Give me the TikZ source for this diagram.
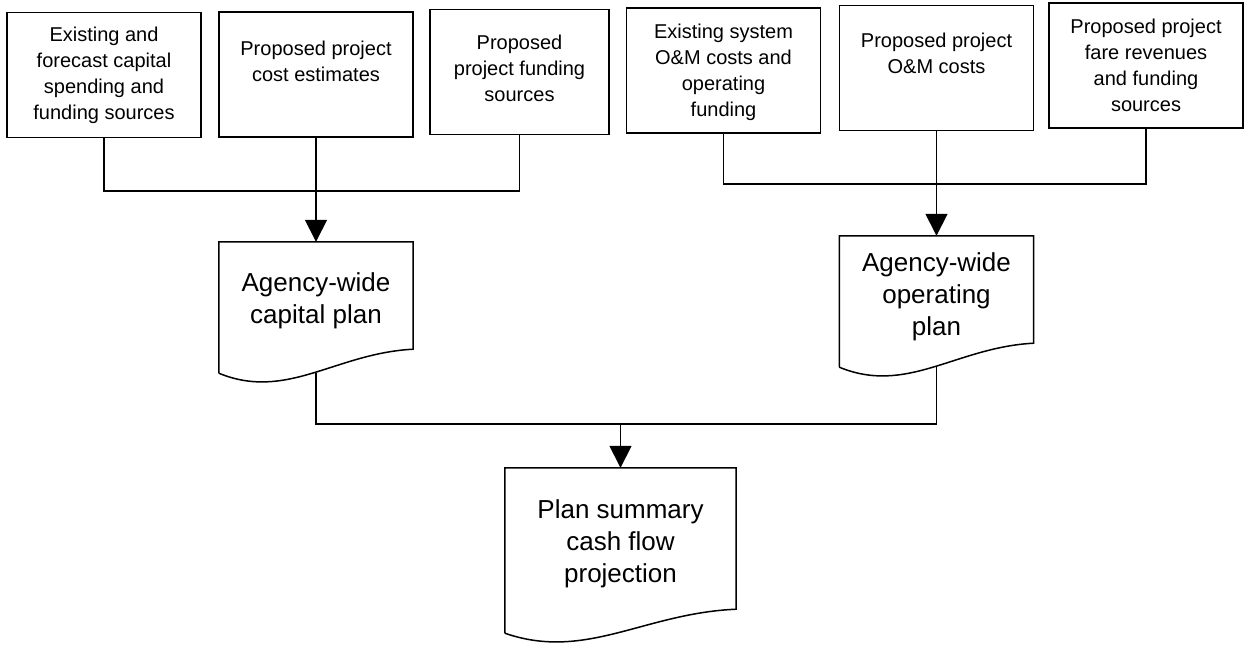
\documentclass[tikz,border=0pt]{standalone}
\usepackage{fontspec}
\setmainfont{Liberation Sans}
\usetikzlibrary{arrows.meta,calc,positioning}

\tikzset{
  wire/.style={draw=black, line width=1.5pt},
  srcbox/.style={wire, rectangle, minimum width=194pt, minimum height=125pt, inner sep=0pt},
  srctext/.style={align=center, inner sep=0pt, font=\fontsize{20}{26}\selectfont},
  docnode/.style={rectangle, inner sep=0pt, minimum width=194pt, minimum height=131pt},
  doctext/.style={align=center, inner sep=0pt, font=\fontsize{26}{32}\selectfont},
  arr/.style={wire, -{Triangle[length=22pt,width=22pt]}}
}

% document symbol: straight top and sides, wavy bottom
\newcommand{\docoutline}[1]{%
  \draw[wire, line join=miter] (#1.south west) -- (#1.north west) -- (#1.north east) -- ($(#1.south east)+(0,-24)$)
    .. controls ($(#1.south west)!0.6!(#1.south east)+(0,-20)$) and ($(#1.south west)!0.35!(#1.south east)+(0,28)$) .. (#1.south west);}

\begin{document}
\begin{tikzpicture}[x=1pt, y=-1pt]
    \useasboundingbox[fill=white] (0,0) rectangle (1244,645);

    \node[srcbox] (b1) at (104,75) {};
    \node[srcbox] (b2) at (316,74.5) {};
    \node[srcbox, minimum width=179pt] (b3) at (519.5,72) {};
    \node[srcbox] (b4) at (723.5,70.5) {};
    \node[srcbox] (b5) at (936.5,68) {};
    \node[srcbox] (b6) at (1146,65.5) {};

    \node[srctext, below=15pt of b1.north] (t1) {Existing and\\forecast capital\\spending and\\funding sources};
    \node[srctext, below=30pt of b2.north] (t2) {Proposed project\\cost estimates};
    \node[srctext, below=26pt of b3.north] (t3) {Proposed\\project funding\\sources};
    \node[srctext, below=17pt of b4.north] (t4) {Existing system\\O\&M costs and\\operating\\funding};
    \node[srctext, below=28pt of b5.north] (t5) {Proposed project\\O\&M costs};
    \node[srctext, below=17pt of b6.north] (t6) {Proposed project\\fare revenues\\and funding\\sources};

    \node[docnode] (d1) at (316,307.5) {};
    \node[docnode] (d2) at (936.5,301.5) {};
    \node[docnode, minimum width=231pt, minimum height=165pt] (d3) at (620.5,550.5) {};
    \docoutline{d1}
    \docoutline{d2}
    \docoutline{d3}

    \node[doctext, below=31pt of d1.north] (p1) {Agency-wide\\capital plan};
    \node[doctext, below=17pt of d2.north] (p2) {Agency-wide\\operating\\plan};
    \node[doctext, below=32pt of d3.north] (p3) {Plan summary\\cash flow\\projection};

    \coordinate (capbus) at (0,191);
    \coordinate (opbus) at (0,184);
    \coordinate (sumbus) at (0,424);

    \draw[wire] (b1.south) |- (b3.south |- capbus) -- (b3.south);
    \draw[arr] (b2.south) -- (d1.north);
    \draw[wire] (b4.south) |- (b6.south |- opbus) -- (b6.south);
    \draw[arr] (b5.south) -- (d2.north);

    \draw[wire] (d1.south) |- (d2.south |- sumbus) -- (d2.south);
    \draw[arr] (d3.north |- sumbus) -- (d3.north);
\end{tikzpicture}
\end{document}
